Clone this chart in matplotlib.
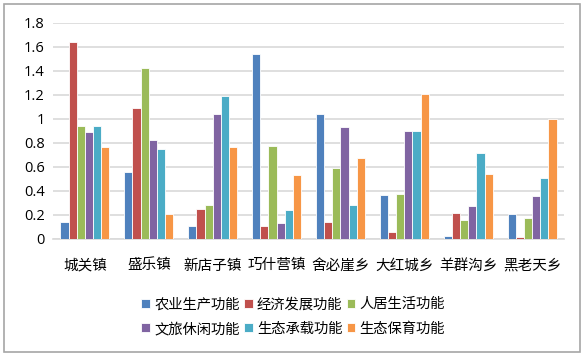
import numpy as np
import matplotlib
matplotlib.use('Agg')
import matplotlib.pyplot as plt
from matplotlib.patches import Rectangle

plt.rcParams['font.family'] = ['Noto Sans CJK SC', 'DejaVu Sans']

towns = ['城关镇', '盛乐镇', '新店子镇', '巧什营镇', '舍必崖乡', '大红城乡', '羊群沟乡', '黑老天乡']
series_names = ['农业生产功能', '经济发展功能', '人居生活功能',
                '文旅休闲功能', '生态承载功能', '生态保育功能']

agri = [0.145, 0.56, 0.105, 1.545, 1.04, 0.37, 0.028, 0.205]
econ = [1.645, 1.095, 0.25, 0.11, 0.145, 0.058, 0.218, 0.02]
living = [0.94, 1.425, 0.285, 0.775, 0.588, 0.372, 0.158, 0.172]
tourism = [0.89, 0.828, 1.042, 0.136, 0.93, 0.90, 0.275, 0.358]
carrying = [0.94, 0.752, 1.192, 0.244, 0.286, 0.90, 0.715, 0.512]
conserve = [0.77, 0.205, 0.768, 0.532, 0.676, 1.21, 0.54, 1.003]

colors = ['#4F81BD', '#C0504D', '#9BBB59', '#8064A2', '#4BACC6', '#F79646']
all_series = [agri, econ, living, tourism, carrying, conserve]

fig = plt.figure(figsize=(5.85, 3.56), dpi=100)
fig.patches.append(Rectangle((0.006, 0.01), 0.986, 0.978, transform=fig.transFigure,
                             fill=False, edgecolor='#A6A6A6', linewidth=1.2))
ax = fig.add_axes([53 / 585, 1 - 239 / 356, (564 - 53) / 585, (239 - 23) / 356])

x = np.arange(len(towns))
w = 0.128
bars = []
for i, (vals, c) in enumerate(zip(all_series, colors)):
    b = ax.bar(x + (i - 2.5) * w, vals, width=w, color=c, edgecolor='white',
               linewidth=0.6, label=series_names[i], zorder=3)
    bars.append(b)

ax.set_xlim(-0.5, len(towns) - 0.5)
ax.set_ylim(0, 1.8)
yt = np.arange(0, 1.81, 0.2)
ax.set_yticks(yt)
ax.set_yticklabels(['%g' % round(v, 1) for v in yt], fontsize=10.5, family='Open Sans')
ax.set_xticks(x)
ax.set_xticklabels(towns, fontsize=10.5)
ax.tick_params(length=0, pad=6)
ax.tick_params(axis='x', pad=14)
ax.grid(axis='y', color='#D9D9D9', linewidth=1.2, zorder=0)
for s in ['top', 'right', 'left']:
    ax.spines[s].set_visible(False)
ax.spines['bottom'].set_color('#D9D9D9')
ax.spines['bottom'].set_linewidth(1.2)

# legend is filled column-wise, reorder so rows read left to right
order = [0, 3, 1, 4, 2, 5]
ax.legend([bars[i] for i in order], [series_names[i] for i in order],
          loc='upper center', bbox_to_anchor=(0.47, -0.21), ncol=3, frameon=False,
          fontsize=10.3, handlelength=0.6, handleheight=0.6, handletextpad=0.3,
          columnspacing=0.3, labelspacing=0.75)

fig.savefig('out.png', dpi=100)
